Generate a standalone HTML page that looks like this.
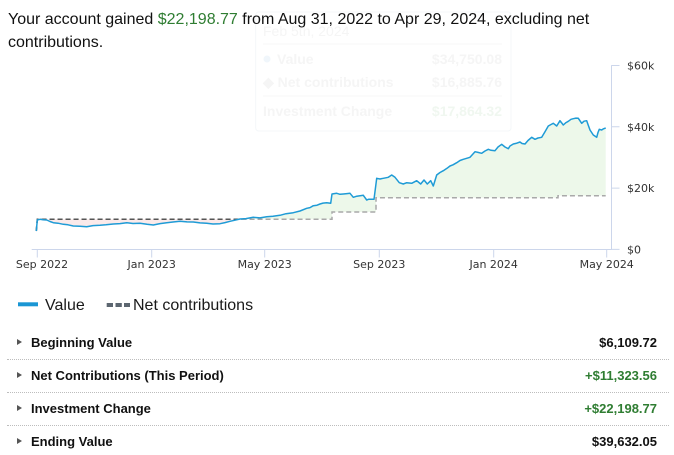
<!DOCTYPE html>
<html>
<head>
<meta charset="utf-8">
<style>
  html, body { margin:0; padding:0; background:#fff; }
  body { width:674px; height:454px; position:relative; overflow:hidden; font-family:"Liberation Sans", Arial, sans-serif; }
  .hdr { position:absolute; left:8px; top:8px; font-size:16px; line-height:23px; color:#111; white-space:nowrap; }
  .green { color:#2f7d32; }
  .row { position:absolute; left:0; width:674px; height:20px; }
  .row .tri { position:absolute; left:17px; top:3px; width:0; height:0; border-top:3.5px solid transparent; border-bottom:3.5px solid transparent; border-left:5px solid #555; }
  .row .lbl { position:absolute; left:31px; top:0; font-size:13px; font-weight:bold; color:#111; line-height:14px; }
  .row .val { position:absolute; right:17px; top:0; font-size:13px; font-weight:bold; color:#111; line-height:14px; }
  .row .val.g { color:#2f7d32; }
  .sep { position:absolute; left:7px; width:662px; height:0; border-top:1px dotted #bdbdbd; }
</style>
</head>
<body>

<!-- faint ghost tooltip -->
<svg width="674" height="454" style="position:absolute;left:0;top:0" xmlns="http://www.w3.org/2000/svg">
  <rect x="255.7" y="12" width="255.3" height="119" rx="3" fill="#fff" stroke="#f4f7f9" stroke-width="1"/>
  <g font-family="Liberation Sans, Arial, sans-serif" font-size="14">
    <text x="263" y="36" fill="#f5f5f5">Feb 5th, 2024</text>
    <line x1="263" y1="44" x2="502" y2="44" stroke="#f7f7f7"/>
    <circle cx="267" cy="59" r="3.5" fill="#f0f6fb"/>
    <text x="277" y="64" fill="#f5f5f5" font-weight="bold">Value</text>
    <text x="502" y="64" fill="#f5f5f5" font-weight="bold" text-anchor="end">$34,750.08</text>
    <text x="263" y="87" fill="#f5f5f5" font-weight="bold">◆ Net contributions</text>
    <text x="502" y="87" fill="#f5f5f5" font-weight="bold" text-anchor="end">$16,885.76</text>
    <line x1="263" y1="96" x2="502" y2="96" stroke="#f7f7f7"/>
    <text x="263" y="116" fill="#f5f5f5" font-weight="bold">Investment Change</text>
    <text x="502" y="116" fill="#f0f7f0" font-weight="bold" text-anchor="end">$17,864.32</text>
  </g>
</svg>

<div class="hdr">Your account gained <span class="green">$22,198.77</span> from Aug 31, 2022 to Apr 29, 2024, excluding net<br>contributions.</div>

<svg width="674" height="454" style="position:absolute;left:0;top:0" xmlns="http://www.w3.org/2000/svg">
  <defs>
    <clipPath id="above">
      <polygon points="36.3,231 37.3,219.3 332,219.3 332,212 376,212 376,197.7 558,197.7 558,195.7 606,195.7 606,0 36.3,0"/>
    </clipPath>
    <clipPath id="below">
      <polygon points="36.3,231 37.3,219.3 332,219.3 332,212 376,212 376,197.7 558,197.7 558,195.7 606,195.7 606,260 36.3,260"/>
    </clipPath>
  </defs>

  <!-- fill between value and contributions -->
  <polygon clip-path="url(#above)" fill="#edf8ea" points="36.3,231 37.3,220 40,219.3 46.7,220 53.3,222.7 63.3,224.3 73.3,226 86.7,226.7 100,225.3 113.3,224 126.7,222.7 140,223.3 153.3,225 166.7,222.7 180,221.3 193.3,222 206.7,223.3 220,223.7 230,221.3 240,219 253.3,217.3 266.7,216.7 280,215.3 293.3,212.7 300,211 306.7,208.3 313.3,205.7 320,204 326.7,202.7 330.7,203.3 332,194 336.7,193.3 343.3,194 350,193.3 353.3,197.3 358.3,196 363.3,195.3 366.7,200 370.7,199.3 374,199.3 376.7,178.3 383.3,178.3 388.3,177.3 391.7,175 395,177.3 399.3,182.7 403.3,184 406.7,182.7 411.7,183.3 416.7,180.7 420.7,184 424,180 427.3,184 430.7,180.7 433.3,186 436.7,175 443.3,170.7 450,166 456.7,162.7 463.3,159.3 470,157.3 475,151.7 481.7,153.3 488.3,149.3 495,150.7 501.7,144.3 508.3,148.7 513.3,144 520,142 525,144 531.7,137.3 535,139.3 541.7,137.3 545,131.7 548.3,126 553.3,123.3 556.7,126 560,120.7 563.3,125 568.3,121.3 573.3,118.7 578.3,118.3 581.7,123.3 586.7,120.7 590,130 593.3,135 596.7,137.3 599.3,129.3 601.7,130 605.7,128 605.7,195.7 558,195.7 558,197.7 376,197.7 376,212 332,212 332,219.3 37.3,219.3"/>
  <polygon clip-path="url(#below)" fill="#fbeaea" points="36.3,231 37.3,220 40,219.3 46.7,220 53.3,222.7 63.3,224.3 73.3,226 86.7,226.7 100,225.3 113.3,224 126.7,222.7 140,223.3 153.3,225 166.7,222.7 180,221.3 193.3,222 206.7,223.3 220,223.7 230,221.3 240,219 253.3,217.3 266.7,216.7 280,215.3 293.3,212.7 300,211 306.7,208.3 313.3,205.7 320,204 326.7,202.7 330.7,203.3 332,212 37.3,219.3"/>

  <!-- axes -->
  <g stroke="#ccd6eb" stroke-width="1" fill="none">
    <path d="M31.7,249.5 H611.7"/>
    <path d="M611.5,65.3 V249.5"/>
    <path d="M37.3,249.5 V257.5 M151.7,249.5 V257.5 M264.7,249.5 V257.5 M379.3,249.5 V257.5 M493.7,249.5 V257.5 M606.7,249.5 V257.5"/>
    <path d="M611.5,65.5 H619.5 M611.5,126.8 H619.5 M611.5,188.1 H619.5 M611.5,249.4 H619.5"/>
  </g>

  <!-- contributions dashed -->
  <path d="M36.3,231 L37.3,219.3 H332 V212 H376 V197.7 H558 V195.7 H605.7" fill="none" stroke="#a9a9a9" stroke-width="1.5" stroke-dasharray="5,3"/>
  <path d="M36.3,231 L37.3,219.3 H242" fill="none" stroke="#555" stroke-width="1.5" stroke-dasharray="5,3"/>

  <!-- value line -->
  <polyline fill="none" stroke="#1f9bd6" stroke-width="1.5" stroke-linejoin="round" points="36.3,231 37.3,220 40,219.3 43,219.8 46.7,220 50,221.5 53.3,222.7 58,223.2 63.3,224.3 68,224.8 73.3,226 80,226.2 86.7,226.7 93,225.6 100,225.3 106,224.8 113.3,224 120,223.6 126.7,222.7 133,223.5 140,223.3 147,224.3 153.3,225 160,223.6 166.7,222.7 173,222 180,221.3 187,221.9 193.3,222 200,222.9 206.7,223.3 213,224 220,223.7 225,222.6 230,221.3 235,220.2 240,219 246,218.6 253.3,217.3 260,217.9 266.7,216.7 273,216.3 280,215.3 286,213.7 293.3,212.7 300,211 306.7,208.3 310,207.6 313.3,205.7 317,205.2 320,204 323,203.1 326.7,202.7 330.7,203.3 332,194 336.7,193.3 340,194.3 343.3,194 347,193.6 350,193.3 353.3,197.3 356,196.4 358.3,196 361,195.6 363.3,195.3 366.7,200 368.5,199.3 370.7,199.3 374,199.3 376.7,178.3 380,179 383.3,178.3 388.3,177.3 391.7,175 395,177.3 399.3,182.7 403.3,184 406.7,182.7 411.7,183.3 416.7,180.7 420.7,184 424,180 427.3,184 430.7,180.7 433.3,186 436.7,175 440,172.5 443.3,170.7 447,168.3 450,166 453,164.8 456.7,162.7 460,160.5 463.3,159.3 466.7,158.3 470,157.3 475,151.7 478,152.4 481.7,153.3 485,151 488.3,149.3 491,150.3 495,150.7 498,147 501.7,144.3 505,147 508.3,148.7 510,146 513.3,144 516,143.4 520,142 522,143.5 525,144 528,140.5 531.7,137.3 535,139.3 538,138 541.7,137.3 545,131.7 548.3,126 551,124.5 553.3,123.3 556.7,126 560,120.7 563.3,125 566,122.6 568.3,121.3 571,119.3 573.3,118.7 576,118.1 578.3,118.3 581.7,123.3 584,121.2 586.7,120.7 588,124.5 590,130 593.3,135 596.7,137.3 598,132.5 599.3,129.3 601.7,130 603.5,128.8 605.7,128"/>

  <!-- axis labels -->
  <g font-family="DejaVu Sans, Verdana, sans-serif" font-size="11" fill="#333">
    <text x="627" y="69.5">$60k</text>
    <text x="627" y="130.8">$40k</text>
    <text x="627" y="192.1">$20k</text>
    <text x="627" y="253.4">$0</text>
    <g text-anchor="middle">
      <text x="42" y="268">Sep 2022</text>
      <text x="151.7" y="268">Jan 2023</text>
      <text x="264.7" y="268">May 2023</text>
      <text x="379.3" y="268">Sep 2023</text>
      <text x="493.7" y="268">Jan 2024</text>
      <text x="606.7" y="268">May 2024</text>
    </g>
  </g>

  <!-- legend -->
  <rect x="18" y="302.3" width="20" height="4" fill="#1a96d4"/>
  <rect x="106.7" y="303" width="6.3" height="4" fill="#5c6670"/>
  <rect x="115.5" y="303" width="6.3" height="4" fill="#5c6670"/>
  <rect x="124" y="303" width="6" height="4" fill="#5c6670"/>
  <g font-family="Liberation Sans, Arial, sans-serif" font-size="16" fill="#1a1a1a">
    <text x="45" y="310">Value</text>
    <text x="133" y="310">Net contributions</text>
  </g>
</svg>

<div class="row" style="top:336px"><div class="tri"></div><div class="lbl">Beginning Value</div><div class="val">$6,109.72</div></div>
<div class="sep" style="top:359px"></div>
<div class="row" style="top:369px"><div class="tri"></div><div class="lbl">Net Contributions (This Period)</div><div class="val g">+$11,323.56</div></div>
<div class="sep" style="top:392px"></div>
<div class="row" style="top:402px"><div class="tri"></div><div class="lbl">Investment Change</div><div class="val g">+$22,198.77</div></div>
<div class="sep" style="top:425px"></div>
<div class="row" style="top:435px"><div class="tri"></div><div class="lbl">Ending Value</div><div class="val">$39,632.05</div></div>

</body>
</html>
